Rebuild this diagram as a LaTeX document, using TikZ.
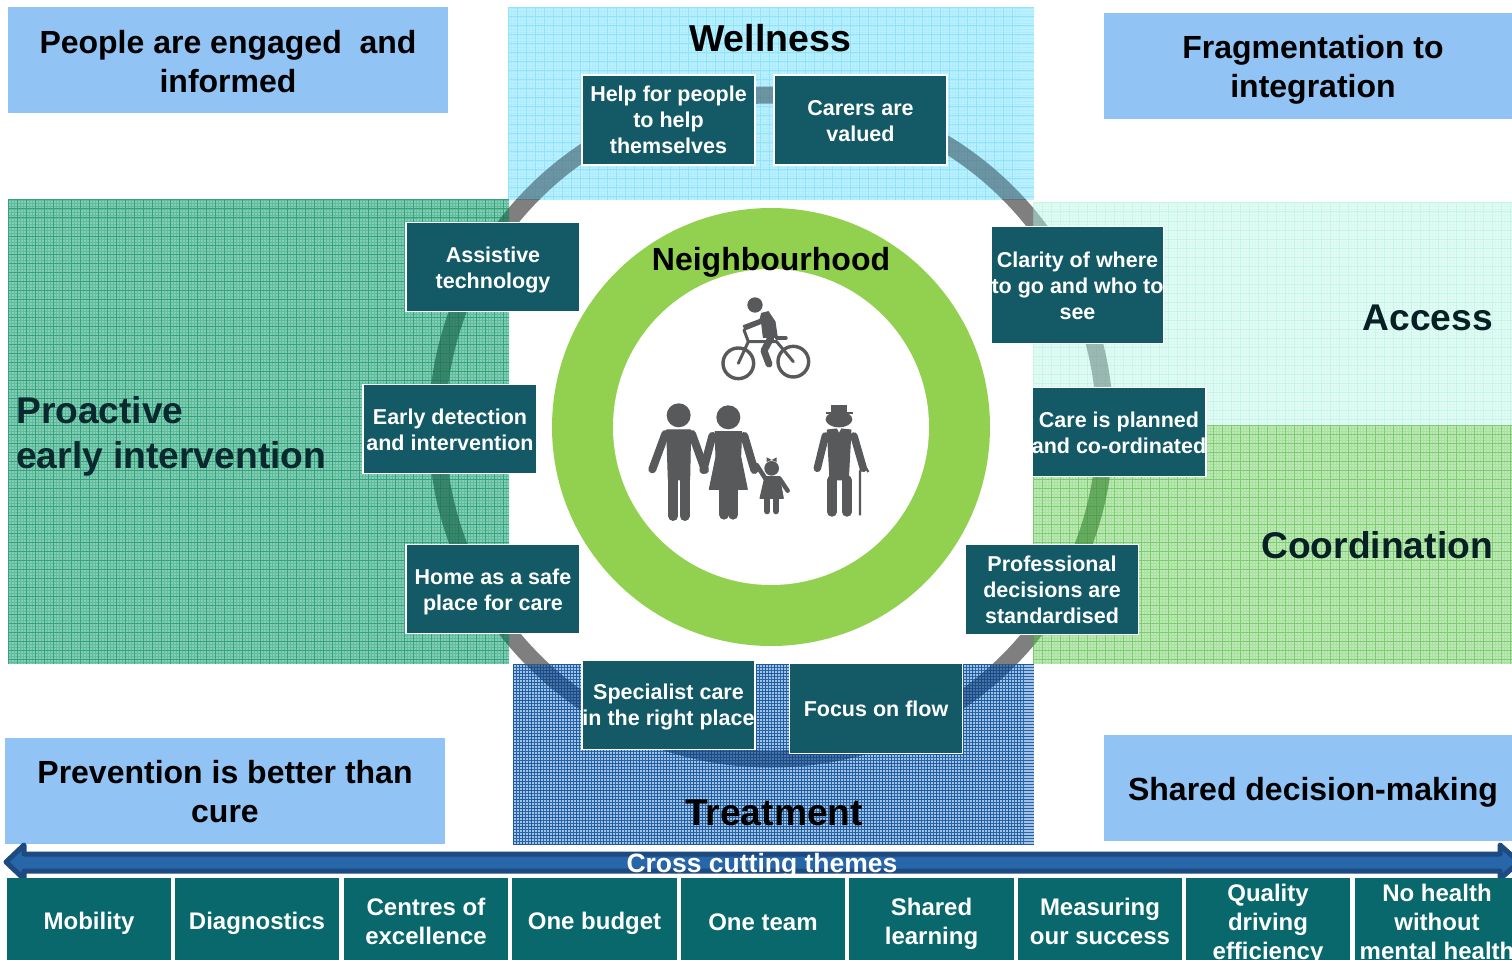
\documentclass[tikz,border=0pt]{standalone}
\usepackage{fontspec}
\setmainfont{Liberation Sans}
\definecolor{teal1}{HTML}{135A66}
\definecolor{teal2}{HTML}{08686C}
\definecolor{sky}{HTML}{91C3F5}
\definecolor{ringgray}{HTML}{7F7F7F}
\definecolor{ringgreen}{HTML}{92D14F}
\definecolor{icon}{HTML}{58595B}
\definecolor{arrowfill}{HTML}{2766A8}
\definecolor{arrowedge}{HTML}{1D4A80}
\definecolor{wellbase}{HTML}{BBF0FF}
\definecolor{wellfine}{HTML}{ADEBFD}
\definecolor{wellline}{HTML}{8FE4FB}
\definecolor{probase}{HTML}{80CEB3}
\definecolor{profine}{HTML}{62BC9C}
\definecolor{proline}{HTML}{35A17F}
\definecolor{accbase}{HTML}{E2FCF5}
\definecolor{accfine}{HTML}{D8F9EF}
\definecolor{accline}{HTML}{C5F5E6}
\definecolor{cobase}{HTML}{BDE9B5}
\definecolor{cofine}{HTML}{A8E0A0}
\definecolor{coline}{HTML}{7CCB72}
\definecolor{trbase}{HTML}{A3C2E4}
\definecolor{trfine}{HTML}{2766A8}
\definecolor{trline}{HTML}{1C5AA0}
\definecolor{tintwell}{HTML}{4E6F7C}
\definecolor{tintpro}{HTML}{1F6A52}
\definecolor{tintacc}{HTML}{6E8C86}
\definecolor{tintco}{HTML}{3E8A38}
\definecolor{tinttr}{HTML}{113F78}
\newcommand{\gridpanel}[8]{% x0 y0 x1 y1 base fine major finewidth
  \fill[#5] (#1,#2) rectangle (#3,#4);
  \begin{scope}
    \clip (#1,#2) rectangle (#3,#4);
    \foreach \gx in {0,3,...,510} {\draw[#6,line width=#8pt] ({#1+\gx},#2) -- ({#1+\gx},#4);}
    \foreach \gy in {0,3,...,465} {\draw[#6,line width=#8pt] (#1,{#2+\gy}) -- (#3,{#2+\gy});}
    \foreach \gx in {0,9,...,510} {\draw[#7,line width=1pt] ({#1+\gx},#2) -- ({#1+\gx},#4);}
    \foreach \gy in {0,9,...,465} {\draw[#7,line width=1pt] (#1,{#2+\gy}) -- (#3,{#2+\gy});}
  \end{scope}}
\newcommand{\ringpath}{(771,427) ellipse[x radius=334,y radius=332]}
\newcommand{\ringtint}[6]{% x0 y0 x1 y1 colour opacity
  \begin{scope}
    \clip (#1,#2) rectangle (#3,#4);
    \draw[#5,opacity=#6,line width=17pt] \ringpath;
  \end{scope}}
\newcommand{\dn}[1]{\rule{0pt}{#1pt}}
\tikzset{
  x=1pt,y=-1pt,
  tealbox/.style={draw=white,line width=1.5pt,fill=teal1,text=white,align=center,inner sep=0pt,
    font=\fontsize{21.5}{26}\selectfont\bfseries},
  skybox/.style={fill=sky,text=black,align=center,inner sep=0pt,
    font=\fontsize{32}{39}\selectfont\bfseries},
  tile/.style={fill=teal2,text=white,align=center,inner sep=0pt,
    font=\fontsize{24}{29}\selectfont\bfseries},
  heading/.style={inner sep=0pt,align=center,font=\fontsize{37.2}{45}\selectfont\bfseries},
  limb/.style={draw=icon,line cap=round,line join=round},
  solid shape/.style={fill=icon,draw=icon,line join=round,line width=1pt}
}
\begin{document}
\begin{tikzpicture}
\useasboundingbox (0,0) rectangle (1512,960);
\clip (0,0) rectangle (1512,960);
\fill[white] (0,0) rectangle (1512,960);
% panels
\gridpanel{508}{8}{1034}{200}{wellbase}{wellfine}{wellline}{0.5}
\gridpanel{8}{200}{509}{664}{probase}{profine}{proline}{0.6}
\gridpanel{1033}{203}{1512}{427}{accbase}{accfine}{accline}{0.5}
\gridpanel{1033}{425}{1512}{664}{cobase}{cofine}{coline}{0.5}
\gridpanel{513}{664}{1034}{844}{trbase}{trfine}{trline}{0.9}
% ring: plain grey on white, seen through the panels elsewhere
\begin{scope}
  \clip (509,200) rectangle (1033,664);
  \draw[ringgray,line width=17pt] \ringpath;
\end{scope}
\ringtint{508}{8}{1034}{200}{tintwell}{.7}
\ringtint{8}{200}{509}{664}{tintpro}{.7}
\ringtint{1033}{203}{1512}{425}{tintacc}{.6}
\ringtint{1033}{425}{1512}{664}{tintco}{.65}
\ringtint{513}{664}{1034}{844}{tinttr}{.6}
% neighbourhood disc
\fill[ringgreen] (771,427) circle[radius=219];
\fill[white] (771,427) circle[radius=158];
\node[inner sep=0pt,font=\fontsize{32}{38}\selectfont\bfseries] (neigh) at (771,262) {Neighbourhood};
% icons (drawn in coordinates of a 3x enlargement)
\begin{scope}[shift={(620,280)},x=0.3333pt,y=-0.3333pt]
 % cyclist
 \fill[icon] (405,75) circle[radius=23];
 \draw[icon,line width=3.4pt] (355,250) circle[radius=46];
 \draw[icon,line width=3.4pt] (520,245) circle[radius=46];
 \fill[solid shape] (425,100) -- (445,95) -- (465,125) -- (472,172) -- (430,172) -- (425,130) -- (375,150) -- (370,137) -- (420,118) -- cycle;
 \draw[limb,line width=7pt] (452,175) -- (432,212) -- (447,252);
 \draw[limb,line width=3pt] (372,150) -- (385,185) -- (470,185) -- (520,245);
 \draw[limb,line width=3pt] (385,185) -- (355,250);
 \draw[limb,line width=3.5pt] (470,174) -- (498,174);
 % man
 \fill[icon] (176,406) circle[radius=36];
 \fill[solid shape] (140,450) -- (212,450) -- (209,600) -- (145,600) -- cycle;
 \draw[limb,line width=8pt] (136,462) -- (97,568);
 \draw[limb,line width=8pt] (216,462) -- (255,570);
 \draw[limb,line width=10pt] (160,600) -- (160,708);
 \draw[limb,line width=10pt] (194,600) -- (194,708);
 % woman
 \fill[icon] (325,412) circle[radius=36];
 \fill[solid shape] (285,455) -- (365,455) -- (362,530) -- (382,628) -- (268,628) -- (288,530) -- cycle;
 \draw[limb,line width=8pt] (277,468) -- (250,570);
 \draw[limb,line width=8pt] (373,468) -- (403,570);
 \draw[limb,line width=10pt] (312,628) -- (312,704);
 \draw[limb,line width=10pt] (340,628) -- (340,704);
 % child
 \fill[icon] (455,565) circle[radius=22];
 \fill[icon] (455,540) -- (440,532) -- (440,546) -- cycle;
 \fill[icon] (455,540) -- (470,532) -- (470,546) -- cycle;
 \fill[solid shape] (435,590) -- (478,590) -- (490,655) -- (420,655) -- cycle;
 \draw[limb,line width=4.5pt] (437,597) -- (410,555);
 \draw[limb,line width=4.5pt] (478,595) -- (503,632);
 \draw[limb,line width=6pt] (442,655) -- (442,694);
 \draw[limb,line width=6pt] (468,655) -- (468,694);
 % old man
 \fill[icon] (632,375) rectangle (682,400);
 \draw[icon,line width=1.6pt] (617,399) -- (700,399);
 \fill[icon] (657,418) ellipse[x radius=40,y radius=24];
 \fill[solid shape] (622,450) -- (650,447) -- (657,462) -- (665,447) -- (693,450) -- (685,600) -- (630,600) -- cycle;
 \draw[limb,line width=7.5pt] (616,468) -- (592,565);
 \draw[limb,line width=7.5pt] (702,468) -- (730,565);
 \draw[limb,line width=9.5pt] (636,600) -- (636,696);
 \draw[limb,line width=9.5pt] (681,600) -- (681,696);
 \draw[icon,line width=2.2pt] (720,706) -- (720,575) .. controls (722,560) and (742,560) .. (745,576);
\end{scope}
% corner boxes
\node[skybox,minimum width=440pt,minimum height=106pt] (people) at (228,60) {\dn{26}People are engaged\ \ and\\informed};
\node[skybox,minimum width=408pt,minimum height=106pt] (frag) at (1308,66) {\dn{31.5}\hspace*{10pt}Fragmentation to\\\hspace*{10pt}integration};
\node[skybox,minimum width=440pt,minimum height=106pt] (prev) at (225,791) {\dn{23.5}Prevention is better than\\cure};
\node[skybox,minimum width=408pt,minimum height=106pt] (shared) at (1308,788) {\dn{31.5}\hspace*{10pt}Shared decision-making};
% headings
\node[heading,font=\fontsize{37.5}{45}\selectfont\bfseries] (well) at (770,38) {Wellness};
\node[heading] (treat) at (774,813) {Treatment};
\node[heading,anchor=west,align=left,text=teal1!45!black] (pro) at (16,436) {Proactive\\early intervention};
\node[heading,anchor=east,text=teal1!35!black] (acc) at (1493,318) {Access};
\node[heading,anchor=east,text=teal1!35!black] (coord) at (1493,545) {Coordination};
% teal boxes
\node[tealbox,minimum width=173pt,minimum height=90pt] (help) at (668.5,120) {Help for people\\to help\\themselves};
\node[tealbox,minimum width=173pt,minimum height=90pt] (carers) at (860.5,120) {\dn{16.5}Carers are\\valued};
\node[tealbox,minimum width=174pt,minimum height=89pt] (assist) at (493,267) {\dn{22}Assistive\\technology};
\node[tealbox,minimum width=174pt,minimum height=89pt] (early) at (450,429) {\dn{18}Early detection\\and intervention};
\node[tealbox,minimum width=174pt,minimum height=89pt] (home) at (493,589) {\dn{22}Home as a safe\\place for care};
\node[tealbox,minimum width=172pt,minimum height=117pt] (clarity) at (1077.5,285) {\dn{18}Clarity of where\\to go and who to\\see};
\node[tealbox,minimum width=172pt,minimum height=89pt] (care) at (1119,432) {\dn{17}Care is planned\\and co-ordinated};
\node[tealbox,minimum width=173pt,minimum height=90pt] (prof) at (1052,589.5) {Professional\\decisions are\\standardised};
\node[tealbox,minimum width=173pt,minimum height=89pt] (spec) at (668.5,705) {\dn{20}Specialist care\\in the right place};
\node[tealbox,minimum width=173pt,minimum height=90pt] (focus) at (876,708.5) {Focus on flow};
% cross-cutting arrow
\draw[fill=arrowfill,draw=arrowedge,line width=5pt,line join=round]
  (6,862) -- (24,845) -- (24,854) -- (1500,854) -- (1500,845) -- (1519,862) -- (1500,879) -- (1500,871) -- (24,871) -- (24,879) -- cycle;
\node[inner sep=0pt,text=white,font=\fontsize{26.5}{30}\selectfont\bfseries] (cross) at (762,866) {Cross cutting themes};
% tiles
\node[tile,minimum width=164pt,minimum height=82pt] (t1) at (89,919) {\dn{25.5}Mobility};
\node[tile,minimum width=164pt,minimum height=82pt] (t2) at (257,919) {\dn{26}Diagnostics};
\node[tile,minimum width=164pt,minimum height=82pt] (t3) at (426,919) {\dn{21.5}Centres of\\excellence};
\node[tile,minimum width=165pt,minimum height=82pt] (t4) at (594.5,919) {\dn{26}One budget};
\node[tile,minimum width=164pt,minimum height=82pt] (t5) at (763,919) {\dn{23.5}One team};
\node[tile,minimum width=165pt,minimum height=82pt] (t6) at (931.5,919) {\dn{27}Shared\\learning};
\node[tile,minimum width=164pt,minimum height=82pt] (t7) at (1100,919) {\dn{21.5}Measuring\\our success};
\node[tile,minimum width=164pt,minimum height=92pt] (t8) at (1268,924) {Quality\\driving\\efficiency};
\node[tile,minimum width=164pt,minimum height=88pt] (t9) at (1437,922) {No health\\without\\mental health};
\end{tikzpicture}
\end{document}
